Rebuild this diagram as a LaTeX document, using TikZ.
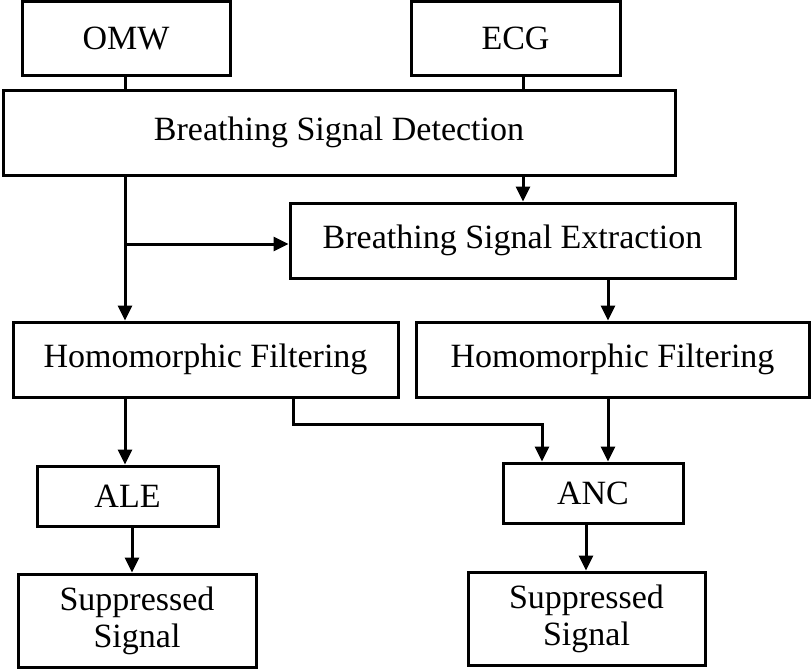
\documentclass[tikz,border=0pt]{standalone}
\usepackage{fontspec}
\setmainfont{Liberation Serif}
\usetikzlibrary{arrows.meta}
\begin{document}
\begin{tikzpicture}[x=1pt,y=-1pt,
  box/.style={draw,line width=3pt,inner sep=0pt,align=center,
    font=\fontsize{34}{37}\selectfont},
  arr/.style={line width=3pt,-{Triangle[length=15pt,width=14pt]}},
  ln/.style={line width=3pt}]
\useasboundingbox (0,0) rectangle (812,670);
\node[box,minimum width=208pt,minimum height=74pt] (omw) at (126,38) {OMW};
\node[box,minimum width=209pt,minimum height=74pt] (ecg) at (515.5,38) {ECG};
\node[box,minimum width=672pt,minimum height=85pt] (bsd) at (339,132.5) {Breathing Signal Detection};
\node[box,minimum width=445pt,minimum height=75pt] (bse) at (512.5,240.5) {Breathing Signal Extraction};
\node[box,minimum width=385pt,minimum height=75pt] (hfl) at (205.5,359.5) {Homomorphic Filtering};
\node[box,minimum width=393pt,minimum height=75pt] (hfr) at (612.5,359.5) {Homomorphic Filtering};
\node[box,minimum width=181pt,minimum height=60pt] (ale) at (127.5,496) {ALE};
\node[box,minimum width=180pt,minimum height=60pt] (anc) at (593,493) {ANC};
\node[box,minimum width=238pt,minimum height=93pt] (ssl) at (137,620.5) {Suppressed\\Signal};
\node[box,minimum width=237pt,minimum height=93pt] (ssr) at (586.5,618.5) {Suppressed\\Signal};
\coordinate (xA) at (125,0);
\coordinate (xB) at (523,0);
\coordinate (xC) at (608,0);
\coordinate (xD) at (293,0);
\coordinate (xE) at (542,0);
\coordinate (xF) at (132,0);
\coordinate (xG) at (586,0);
\coordinate (yH) at (0,424);
\coordinate (yK) at (0,244);
\draw[ln] (omw.south -| xA) -- (bsd.north -| xA);
\draw[ln] (ecg.south -| xB) -- (bsd.north -| xB);
\draw[arr] (bsd.south -| xB) -- (bse.north -| xB);
\draw[arr] (bsd.south -| xA) -- (hfl.north -| xA);
\draw[arr] (xA |- yK) -- (bse.west |- yK);
\draw[arr] (bse.south -| xC) -- (hfr.north -| xC);
\draw[arr] (hfl.south -| xA) -- (ale.north -| xA);
\draw[arr] (hfl.south -| xD) |- (xE |- yH) -- (anc.north -| xE);
\draw[arr] (hfr.south -| xC) -- (anc.north -| xC);
\draw[arr] (ale.south -| xF) -- (ssl.north -| xF);
\draw[arr] (anc.south -| xG) -- (ssr.north -| xG);
\end{tikzpicture}
\end{document}
